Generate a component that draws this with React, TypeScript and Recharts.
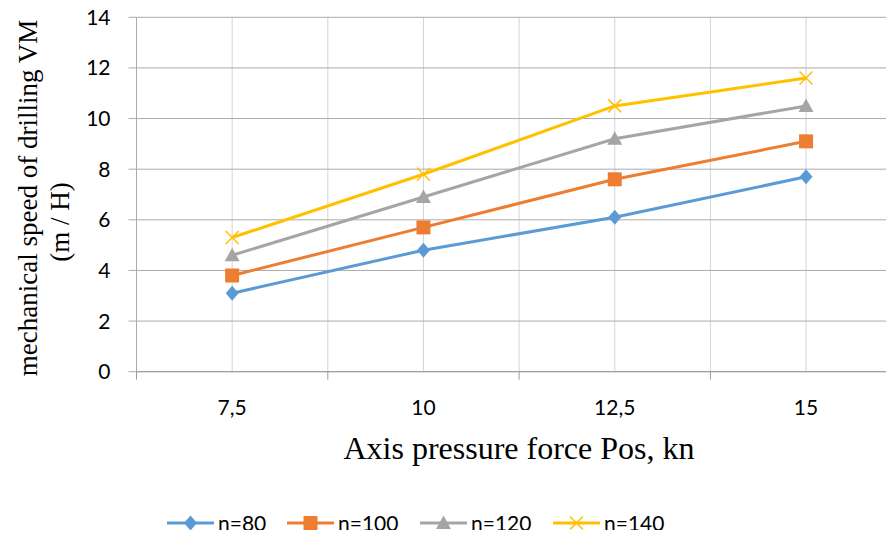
import React from 'react';
import { LineChart, Line, XAxis, YAxis, CartesianGrid, Legend } from 'recharts';

const categories = [7.5, 10, 12.5, 15];
const tickLabels = ['7,5', '10', '12,5', '15'];
const boundaries = [6.25, 8.75, 11.25, 13.75, 16.25];
const n80 = [3.1, 4.8, 6.1, 7.7];
const n100 = [3.8, 5.7, 7.6, 9.1];
const n120 = [4.6, 6.9, 9.2, 10.5];
const n140 = [5.3, 7.8, 10.5, 11.6];
const yTicks = [0, 2, 4, 6, 8, 10, 12, 14];
const seriesNames = ['n=80', 'n=100', 'n=120', 'n=140'];
const colors = ['#5B9BD5', '#ED7D31', '#A5A5A5', '#FFC000'];
const xTitle = 'Axis pressure force Pos, kn';
const yTitle1 = 'mechanical speed of drilling VM';
const yTitle2 = '(m / H)';

const data = categories.map((c, i) => ({
  x: c,
  n80: n80[i],
  n100: n100[i],
  n120: n120[i],
  n140: n140[i],
}));

const xTicks = [6.25, 7.5, 8.75, 10, 11.25, 12.5, 13.75, 15, 16.25];

const FONT = 'Lato, "Open Sans", sans-serif';
const SERIF = '"Liberation Serif", "Times New Roman", serif';

function marker(kind: number, cx: number, cy: number, color: string, key?: any) {
  if (kind === 0) {
    return (
      <polygon key={key} points={`${cx},${cy - 7.5} ${cx + 6.5},${cy} ${cx},${cy + 7.5} ${cx - 6.5},${cy}`} fill={color} />
    );
  }
  if (kind === 1) {
    return <rect key={key} x={cx - 7} y={cy - 7} width={14} height={14} fill={color} />;
  }
  if (kind === 2) {
    return <polygon key={key} points={`${cx},${cy - 7.5} ${cx + 7.5},${cy + 6} ${cx - 7.5},${cy + 6}`} fill={color} />;
  }
  return (
    <g key={key} stroke={color} strokeWidth={1.5}>
      <line x1={cx - 6.5} y1={cy - 6.5} x2={cx + 6.5} y2={cy + 6.5} />
      <line x1={cx - 6.5} y1={cy + 6.5} x2={cx + 6.5} y2={cy - 6.5} />
    </g>
  );
}

const makeDot = (kind: number, color: string) => (props: any) => {
  const { cx, cy, index } = props;
  if (cx == null || cy == null) return <g key={index} />;
  return marker(kind, cx, cy, color, index);
};

const XTick = (props: any) => {
  const { x, y, payload } = props;
  const v = payload.value;
  const idx = categories.indexOf(v);
  if (idx >= 0) {
    return (
      <text x={x} y={y + 43} textAnchor="middle" fontFamily={FONT} fontSize={21} fill="#000">
        {tickLabels[idx]}
      </text>
    );
  }
  if (boundaries.indexOf(v) >= 0) {
    return <line x1={x} x2={x} y1={y} y2={y + 8} stroke="#9a9a9a" strokeWidth={1} />;
  }
  return <g />;
};

const LegendContent = () => {
  const starts = [167, 287, 420, 553];
  return (
    <svg width={894} height={40} style={{ display: 'block' }}>
      {seriesNames.map((name, i) => {
        const x0 = starts[i];
        return (
          <g key={name}>
            <line x1={x0} x2={x0 + 47} y1={17} y2={17} stroke={colors[i]} strokeWidth={3} />
            {marker(i, x0 + 23.5, 17, colors[i])}
            <text x={x0 + 51} y={24.5} fontFamily={FONT} fontSize={21} fill="#000">
              {name}
            </text>
          </g>
        );
      })}
    </svg>
  );
};

export default function App() {
  const keys = ['n80', 'n100', 'n120', 'n140'];
  return (
    <div style={{ margin: -8, width: 894, height: 538, overflow: 'hidden', position: 'relative', background: '#fff' }}>
      <LineChart
        width={910}
        height={538}
        data={data}
        margin={{ top: 17.3, right: 8.3, left: 76.5, bottom: 136.3 }}
      >
        <CartesianGrid stroke="#D4D4D4" horizontal={false} vertical={true} />
        <CartesianGrid stroke="#ABABAB" horizontal={true} vertical={false} />
        <XAxis
          dataKey="x"
          type="number"
          domain={[6.25, 16.25]}
          ticks={xTicks}
          interval={0}
          height={30}
          tickLine={false}
          tickSize={0}
          tickMargin={0}
          axisLine={{ stroke: '#9a9a9a' }}
          tick={<XTick />}
        />
        <YAxis
          type="number"
          domain={[0, 14]}
          ticks={yTicks}
          interval={0}
          width={60}
          tickSize={8}
          tickMargin={18}
          tickLine={{ stroke: '#ABABAB' }}
          axisLine={{ stroke: '#ABABAB' }}
          tick={{ fontFamily: FONT, fontSize: 21, fill: '#000' }}
        />
        {keys.map((k, i) => (
          <Line
            key={k}
            dataKey={k}
            name={seriesNames[i]}
            stroke={colors[i]}
            strokeWidth={3}
            isAnimationActive={false}
            dot={makeDot(i, colors[i])}
            activeDot={false}
          />
        ))}
        <Legend
          layout="vertical"
          align="center"
          verticalAlign="middle"
          content={<LegendContent />}
          wrapperStyle={{ position: 'absolute', top: 506, left: 0, width: 894, height: 40 }}
        />
      </LineChart>
      <svg width={894} height={538} style={{ position: 'absolute', top: 0, left: 0, pointerEvents: 'none' }}>
        <text x={519} y={459} textAnchor="middle" fontFamily={SERIF} fontSize={32} fill="#000">
          {xTitle}
        </text>
        <text transform="translate(37,198) rotate(-90)" textAnchor="middle" fontFamily={SERIF} fontSize={27} fill="#000">
          {yTitle1}
        </text>
        <text transform="translate(69,222) rotate(-90)" textAnchor="middle" fontFamily={SERIF} fontSize={27} fill="#000">
          {yTitle2}
        </text>
      </svg>
    </div>
  );
}
